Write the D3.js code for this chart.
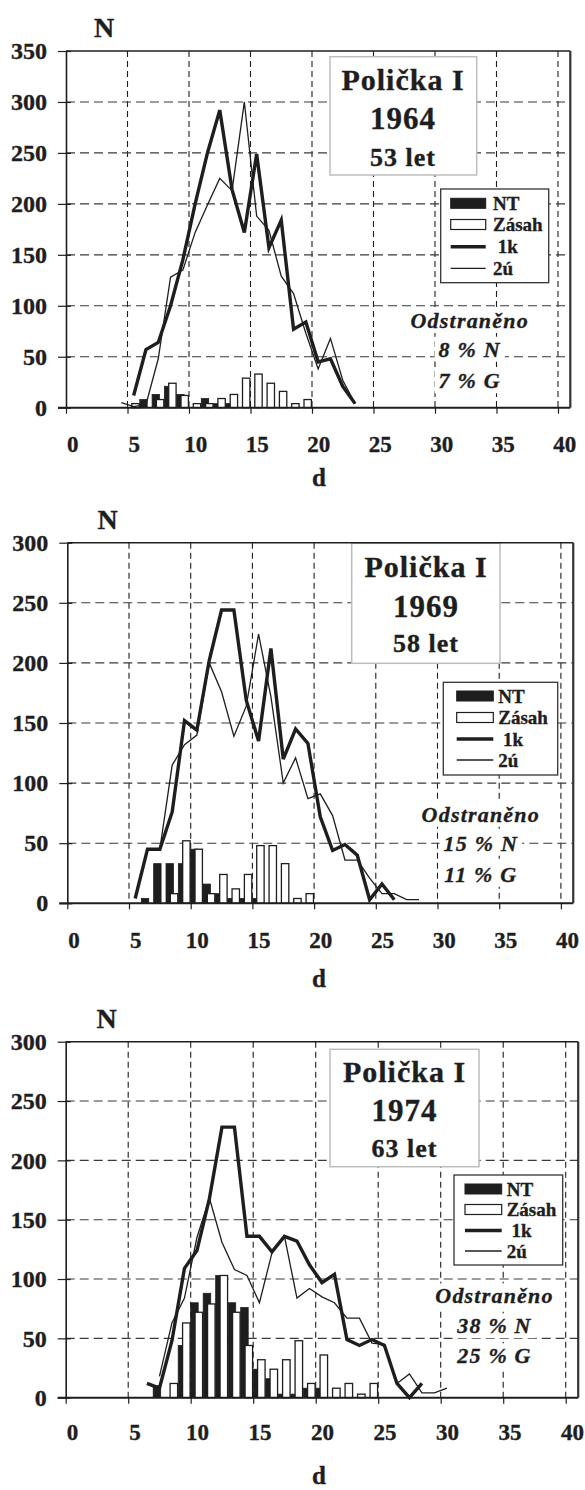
<!DOCTYPE html>
<html><head><meta charset="utf-8">
<script src="https://cdn.jsdelivr.net/npm/d3@7"></script>
<style>
html,body{margin:0;padding:0;background:#fff;}
svg{display:block;}
text{font-family:"Liberation Serif","Times New Roman",serif;font-weight:bold;fill:#1e1e1e;stroke:#1e1e1e;stroke-width:0.35px;}
</style></head><body>
<script>
// ---------- DATA ----------
const xTicks = [0, 5, 10, 15, 20, 25, 30, 35, 40];
const yTicks1964 = [0, 50, 100, 150, 200, 250, 300, 350];
const yTicks1969 = [0, 50, 100, 150, 200, 250, 300];
const yTicks1974 = [0, 50, 100, 150, 200, 250, 300];
const siteName = "Polička I";
const years = ["1964", "1969", "1974"];
const ages = ["53 let", "58 let", "63 let"];
const removedTitle = "Odstraněno";
const removedN = ["8 % N", "15 % N", "38 % N"];
const removedG = ["7 % G", "11 % G", "25 % G"];
const legendLabels = ["NT", "Zásah", " 1k", "2ú"];
const xLabel = "d", yLabel = "N";

// 1964 – bars by diameter class (lower bound), lines at class centres
const classes1964 = [5, 6, 7, 8, 9, 10, 11, 12, 13, 14, 15, 16, 17, 18, 19];
const nt1964      = [0, 8, 13, 21, 13, 0, 9, 4, 4, 0, 0, 0, 0, 0, 0];
const zasah1964   = [4, 0, 8, 24, 12, 4, 4, 9, 13, 29, 33, 24, 16, 4, 8];
const k1Centers1964 = [5.5, 6.5, 7.5, 8.5, 9.5, 10.5, 11.5, 12.5, 13.5, 14.5, 15.5, 16.5, 17.5, 18.5, 19.5, 20.5, 21.5, 22.5, 23.5];
const k1Values1964  = [12, 57, 64, 100, 145, 200, 250, 292, 214, 172, 249, 157, 184, 77, 84, 45, 48, 21, 4];
const u2Centers1964 = [4.5, 5.5, 6.5, 7.5, 8.5, 9.5, 10.5, 11.5, 12.5, 13.5, 14.5, 15.5, 16.5, 17.5, 18.5, 19.5, 20.5, 21.5, 22.5, 23.5];
const u2Values1964  = [5, 1, 3, 48, 128, 135, 172, 199, 225, 213, 300, 188, 174, 129, 112, 73, 38, 68, 27, 4];

// 1969
const classes1969 = [6, 7, 8, 9, 10, 11, 12, 13, 14, 15, 16, 17, 18, 19];
const nt1969      = [4, 33, 33, 33, 45, 16, 8, 4, 4, 4, 0, 0, 0, 0];
const zasah1969   = [0, 0, 8, 52, 45, 8, 24, 12, 24, 48, 48, 33, 4, 8];
const k1Centers1969 = [5.5, 6.5, 7.5, 8.5, 9.5, 10.5, 11.5, 12.5, 13.5, 14.5, 15.5, 16.5, 17.5, 18.5, 19.5, 20.5, 21.5, 22.5, 23.5, 24.5, 25.5, 26.5];
const k1Values1969  = [4, 45, 45, 76, 152, 144, 202, 244, 244, 169, 135, 212, 120, 145, 133, 72, 44, 49, 40, 3, 16, 3];
const u2Centers1969 = [7.5, 8.5, 9.5, 10.5, 11.5, 12.5, 13.5, 14.5, 15.5, 16.5, 17.5, 18.5, 19.5, 20.5, 21.5, 22.5, 23.5, 24.5, 25.5, 26.5, 27.5, 28.5];
const u2Values1969  = [45, 115, 132, 140, 200, 176, 139, 164, 224, 172, 100, 121, 87, 91, 73, 36, 36, 21, 8, 8, 3, 3];

// 1974
const classes1974 = [7, 8, 9, 10, 11, 12, 13, 14, 15, 16, 17, 18, 19, 20, 21, 22, 23, 24];
const nt1974      = [10, 0, 44, 80, 88, 103, 80, 76, 24, 16, 3, 3, 8, 8, 0, 0, 0, 0];
const zasah1974   = [0, 12, 63, 72, 79, 103, 72, 44, 32, 24, 32, 48, 12, 36, 8, 12, 3, 12];
const k1Centers1974 = [6.5, 7.5, 8.5, 9.5, 10.5, 11.5, 12.5, 13.5, 14.5, 15.5, 16.5, 17.5, 18.5, 19.5, 20.5, 21.5, 22.5, 23.5, 24.5, 25.5, 26.5, 27.5, 28.5];
const k1Values1974  = [12, 8, 48, 109, 124, 168, 228, 228, 136, 136, 123, 136, 132, 112, 97, 104, 49, 44, 49, 44, 12, 0, 12];
const u2Centers1974 = [7.5, 8.5, 9.5, 10.5, 11.5, 12.5, 13.5, 14.5, 15.5, 16.5, 17.5, 18.5, 19.5, 20.5, 21.5, 22.5, 23.5, 24.5, 25.5, 26.5, 27.5, 28.5, 29.5, 30.5];
const u2Values1974  = [18, 63, 84, 135, 168, 131, 108, 103, 80, 122, 136, 84, 92, 85, 80, 67, 67, 46, 45, 12, 20, 4, 4, 8];

// ---------- LAYOUT ----------
const INK = "#1e1e1e";
const panels = [
  {year: years[0], age: ages[0], rn: removedN[0], rg: removedG[0], yTicks: yTicks1964, yMax: 350,
   classes: classes1964, nt: nt1964, zasah: zasah1964,
   k1: {c: k1Centers1964, v: k1Values1964}, u2: {c: u2Centers1964, v: u2Values1964},
   left: 66, unit: 12.3, top: 51, bottom: 407.7,
   nPos: [104, 36.7], xlBase: 452, dPos: [319, 486],
   title: {x: 330, y: 56.7, w: 146.7, h: 118.3, cx: 403, b: [90, 129.3, 165.7]},
   legend: {x: 440.7, y: 189, w: 108, h: 93.7, sx: 450.7, sw: 35, tx: 493, ry: [203.3, 224.5, 246.7, 268.3]},
   odst: {cx: 469.7, b: [328, 356.7, 388.3]}},
  {year: years[1], age: ages[1], rn: removedN[1], rg: removedG[1], yTicks: yTicks1969, yMax: 300,
   classes: classes1969, nt: nt1969, zasah: zasah1969,
   k1: {c: k1Centers1969, v: k1Values1969}, u2: {c: u2Centers1969, v: u2Values1969},
   left: 67.3, unit: 12.34, top: 542.7, bottom: 903.3,
   nPos: [107.5, 529.3], xlBase: 948, dPos: [319, 987],
   title: {x: 351.7, y: 543.3, w: 148.3, h: 120, cx: 426, b: [577, 616.7, 651.7]},
   legend: {x: 443.3, y: 682.3, w: 114.4, h: 92.7, sx: 456.7, sw: 36.6, tx: 498.3, ry: [696, 717.5, 739, 760]},
   odst: {cx: 480.8, b: [821.7, 850.7, 881.7]}},
  {year: years[2], age: ages[2], rn: removedN[2], rg: removedG[2], yTicks: yTicks1974, yMax: 300,
   classes: classes1974, nt: nt1974, zasah: zasah1974,
   k1: {c: k1Centers1974, v: k1Values1974}, u2: {c: u2Centers1974, v: u2Values1974},
   left: 65.7, unit: 12.5, top: 1041.7, bottom: 1397.7,
   nPos: [106.7, 1028.3], xlBase: 1440, dPos: [319, 1484],
   title: {x: 330, y: 1049.3, w: 149, h: 117.4, cx: 404.5, b: [1081.7, 1121, 1156.7]},
   legend: {x: 454, y: 1175, w: 108.7, h: 90, sx: 465, sw: 36.7, tx: 506.7, ry: [1189, 1209.5, 1230.5, 1251]},
   odst: {cx: 494.5, b: [1303.3, 1333.3, 1363.3]}}
];

const svg = d3.select("body").append("svg").attr("width", 585).attr("height", 1490);

panels.forEach(p => {
  const x = d3.scaleLinear().domain([0, 41]).range([p.left, p.left + 41 * p.unit]);
  const y = d3.scaleLinear().domain([0, p.yMax]).range([p.bottom, p.top]);
  const g = svg.append("g");
  const gGrid = g.append("g"), gBox = g.append("g"), gMarks = g.append("g"),
        gAxes = g.append("g"), gText = g.append("g");

  // grid
  gGrid.selectAll("line.v").data(xTicks.filter(t => t > 0)).join("line")
    .attr("x1", d => x(d)).attr("x2", d => x(d)).attr("y1", p.top).attr("y2", p.bottom)
    .attr("stroke", INK).attr("stroke-width", 1.1).attr("stroke-dasharray", "6,4");
  gGrid.selectAll("line.h").data(p.yTicks.filter(t => t > 0 && t < p.yMax)).join("line")
    .attr("x1", x(0)).attr("x2", x(41)).attr("y1", d => y(d)).attr("y2", d => y(d))
    .attr("stroke", "#3a3a3a").attr("stroke-width", 1.1).attr("stroke-dasharray", "9,5");

  // bars
  const barData = p.classes.map((c, i) => ({c, nt: p.nt[i], z: p.zasah[i]}));
  barData.forEach(b => {
    if (b.nt > 0) gMarks.append("rect").attr("x", x(b.c)).attr("width", x(b.c + 0.6) - x(b.c))
      .attr("y", y(b.nt)).attr("height", y(0) - y(b.nt)).attr("fill", INK).attr("stroke", INK).attr("stroke-width", 0.8);
    if (b.z > 0) gMarks.append("rect").attr("x", x(b.c + 0.35)).attr("width", x(b.c + 0.95) - x(b.c + 0.35))
      .attr("y", y(b.z)).attr("height", y(0) - y(b.z)).attr("fill", "#fff").attr("stroke", INK).attr("stroke-width", 1.3);
  });

  // lines
  const line = d3.line().x(d => x(d[0])).y(d => y(d[1]));
  gMarks.append("path").datum(p.u2.c.map((c, i) => [c, p.u2.v[i]])).attr("d", line)
    .attr("fill", "none").attr("stroke", INK).attr("stroke-width", 1.3).attr("stroke-linejoin", "miter");
  gMarks.append("path").datum(p.k1.c.map((c, i) => [c, p.k1.v[i]])).attr("d", line)
    .attr("fill", "none").attr("stroke", INK).attr("stroke-width", 3.4).attr("stroke-linejoin", "miter");

  // axes
  const ay = gAxes.append("g").attr("transform", `translate(${x(0)},0)`)
    .call(d3.axisLeft(y).tickValues(p.yTicks).tickSizeOuter(0).tickSizeInner(8).tickPadding(11));
  ay.select(".domain").attr("stroke", INK).attr("stroke-width", 1.6);
  ay.selectAll(".tick line").attr("x2", -8).attr("x1", 5).attr("stroke", INK).attr("stroke-width", 1.2);
  ay.selectAll(".tick text").attr("font-size", 24).attr("font-family", null).attr("fill", INK);
  const ax = gAxes.append("g").attr("transform", `translate(0,${y(0)})`)
    .call(d3.axisBottom(x).tickValues(xTicks).tickSizeOuter(0).tickSizeInner(6));
  ax.select(".domain").attr("stroke", INK).attr("stroke-width", 2);
  ax.selectAll(".tick line").attr("stroke", INK).attr("stroke-width", 1.2);
  ax.selectAll(".tick text").attr("font-size", 23).attr("font-family", null).attr("fill", INK)
    .attr("x", p.unit * 0.5).attr("y", p.xlBase - p.bottom).attr("dy", 0);
  ax.select(".domain").attr("d", `M${x(0) - 8},0H${x(41)}`);
  // frame top & right
  gAxes.append("line").attr("x1", x(0)).attr("x2", x(41)).attr("y1", y(p.yMax)).attr("y2", y(p.yMax))
    .attr("stroke", INK).attr("stroke-width", 1.6);
  gAxes.append("line").attr("x1", x(41)).attr("x2", x(41)).attr("y1", y(p.yMax)).attr("y2", y(0))
    .attr("stroke", "#333").attr("stroke-width", 2.2);

  // axis titles
  gText.append("text").attr("x", p.nPos[0]).attr("y", p.nPos[1]).attr("text-anchor", "middle")
    .attr("font-size", 28).text(yLabel);
  gText.append("text").attr("x", p.dPos[0]).attr("y", p.dPos[1]).attr("text-anchor", "middle")
    .attr("font-size", 25).text(xLabel);

  // title box
  const t = p.title;
  gBox.append("rect").attr("x", t.x).attr("y", t.y).attr("width", t.w).attr("height", t.h)
    .attr("fill", "#fff").attr("stroke", "#bdbdbd").attr("stroke-width", 1.5);
  [[siteName, 30], [p.year, 31], [p.age, 26]].forEach((s, i) => {
    gText.append("text").attr("x", t.cx).attr("y", t.b[i]).attr("text-anchor", "middle")
      .attr("font-size", s[1]).attr("letter-spacing", 1).text(s[0]);
  });

  // legend
  const L = p.legend;
  gBox.append("rect").attr("x", L.x).attr("y", L.y).attr("width", L.w).attr("height", L.h)
    .attr("fill", "#fff").attr("stroke", "#333").attr("stroke-width", 1.3);
  gText.append("rect").attr("x", L.sx).attr("y", L.ry[0] - 5).attr("width", L.sw).attr("height", 10)
    .attr("fill", INK).attr("stroke", INK);
  gText.append("rect").attr("x", L.sx).attr("y", L.ry[1] - 5).attr("width", L.sw).attr("height", 10)
    .attr("fill", "#fff").attr("stroke", INK).attr("stroke-width", 1.2);
  gText.append("line").attr("x1", L.sx).attr("x2", L.sx + L.sw).attr("y1", L.ry[2]).attr("y2", L.ry[2])
    .attr("stroke", INK).attr("stroke-width", 3.4);
  gText.append("line").attr("x1", L.sx).attr("x2", L.sx + L.sw).attr("y1", L.ry[3]).attr("y2", L.ry[3])
    .attr("stroke", INK).attr("stroke-width", 1.3);
  legendLabels.forEach((s, i) => {
    gText.append("text").attr("x", L.tx).attr("y", L.ry[i] + 6.5).attr("font-size", 19)
      .style("white-space", "pre").text(s);
  });

  // removed block
  const O = p.odst;
  [removedTitle, p.rn, p.rg].forEach((s, i) => {
    const tx = gText.append("text").attr("x", O.cx).attr("y", O.b[i]).attr("text-anchor", "middle")
      .attr("font-size", 22).attr("font-style", "italic").attr("letter-spacing", 1.2).text(s);
    const bb = tx.node().getBBox();
    gBox.append("rect").attr("x", bb.x - 4).attr("y", bb.y).attr("width", bb.width + 8).attr("height", bb.height)
      .attr("fill", "#fff");
  });
});
</script>
</body></html>
